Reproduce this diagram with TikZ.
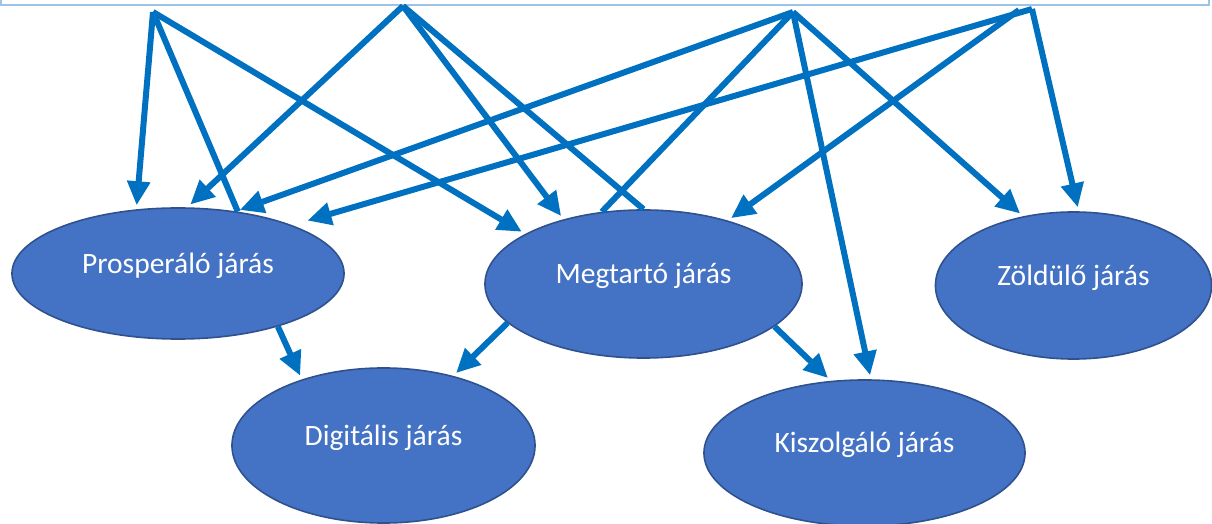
\documentclass[tikz,border=0pt]{standalone}
\usepackage{fontspec}
\setmainfont{Carlito}
\usepackage{tikz}
\usetikzlibrary{shapes.geometric}
\usetikzlibrary{arrows.meta}

\definecolor{nyilkek}{HTML}{0070C0}
\definecolor{jarasfill}{HTML}{4472C4}
\definecolor{jarasline}{HTML}{2F528F}
\definecolor{keretkek}{HTML}{9DC3E6}

\tikzset{
  jaras/.style 2 args={ellipse, draw=jarasline, line width=0.04cm, fill=jarasfill,
    text=white, minimum width=#1, minimum height=#2, inner sep=0pt,
    text height=0.5cm, text depth=0.5cm, font=\fontsize{21}{25}\selectfont},
  vonal/.style={draw=nyilkek, line width=0.15cm},
  nyil/.style={vonal, -{Triangle[length=0.6cm,width=0.55cm]}, shorten >=0.1cm},
}

\begin{document}
\begin{tikzpicture}[x=0.025cm,y=-0.025cm]
	  \useasboundingbox (0,0) rectangle (1212,524);

	  %----------------------------------------------------------------
	  % frame at the top
	  \draw [keretkek, line width=0.05cm] (1,-10) -- (1,5) -- (1209,5) -- (1209,-10);

	  \coordinate (a) at (153,12);
	  \coordinate (b) at (403,6);
	  \coordinate (c) at (793,12);
	  \coordinate (d1) at (1019,10);
	  \coordinate (d2) at (1032,9);

	  %----------------------------------------------------------------
	  \node [jaras={8.3cm}{3.275cm}] (prosp) at (178,273.5) {Prosperáló járás};
	  \node [jaras={7.925cm}{3.7cm}] (megt) at (643.5,284) {Megtartó járás};
	  \node [jaras={6.9cm}{3.675cm}] (zold) at (1073.5,285.5) {Zöldülő járás};
	  \node [jaras={7.575cm}{3.875cm}] (digi) at (383.5,445.5) {Digitális járás};
	  \node [jaras={8.025cm}{3.65cm}] (kisz) at (864.5,453) {Kiszolgáló járás};

	  %----------------------------------------------------------------
	  \draw [nyil] (a) -- (prosp.123.7);
	  \draw [vonal] (a) -- (prosp.46.2);
	  \draw [nyil] (a) -- (megt.157.2);

	  \draw [nyil] (b) -- (prosp.82.1);
	  \draw [nyil] (b) -- (megt.141.2);
	  \draw [vonal] (b) -- (megt.90);

	  \draw [nyil] (c) -- (prosp.47);
	  \draw [vonal] (c) -- (megt.120);
	  \draw [nyil] (c) -- (kisz.85.9);
	  \draw [nyil] (c) -- (zold.126.7);

	  \draw [nyil, shorten >=0.4cm] (d2) -- (prosp.23.1);
	  \draw [nyil] (d1) -- (megt.37.4);
	  \draw [nyil] (d2) -- (zold.86.8);

	  %----------------------------------------------------------------
	  \draw [nyil] (prosp.-28.1) -- (digi.141.9);
	  \draw [nyil] (megt.-164.7) -- (digi.45.4);
	  \draw [nyil] (megt.-18.9) -- (kisz.115);

\end{tikzpicture}
\end{document}
